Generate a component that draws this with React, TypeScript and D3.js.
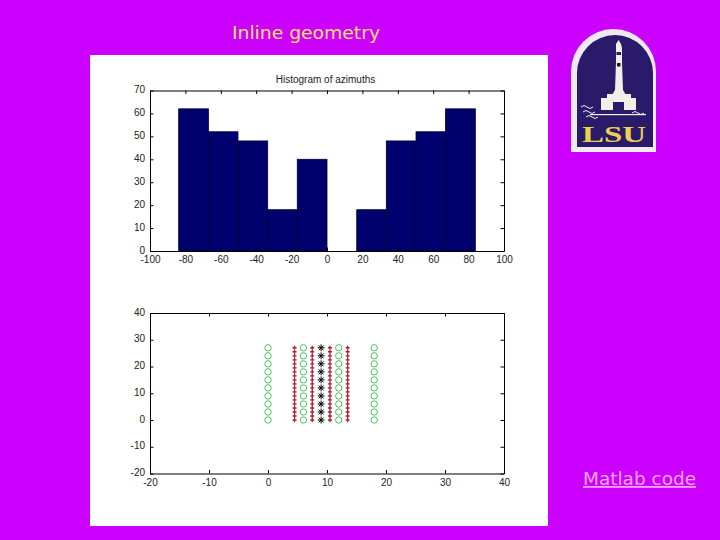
import React, { useEffect, useRef } from "react";
import * as d3 from "d3";

const binEdges = [-83.8, -67, -50.3, -33.5, -16.8, 0, 16.8, 33.5, 50.3, 67, 83.8];
const binCounts = [62, 52, 48, 18, 40, 0, 18, 48, 52, 62];
const histXTicks = [-100, -80, -60, -40, -20, 0, 20, 40, 60, 80, 100];
const histYTicks = [0, 10, 20, 30, 40, 50, 60, 70];
const geoXTicks = [-20, -10, 0, 10, 20, 30, 40];
const geoYTicks = [-20, -10, 0, 10, 20, 30, 40];
const greenColumns = [0, 6, 12, 18];
const redColumns = [4.5, 7.5, 10.5, 13.5];
const blackColumns = [9];
const greenRows = [0, 3, 6, 9, 12, 15, 18, 21, 24, 27];
const redRows = [0, 1.5, 3, 4.5, 6, 7.5, 9, 10.5, 12, 13.5, 15, 16.5, 18, 19.5, 21, 22.5, 24, 25.5, 27];
const blackRows = [0, 3, 6, 9, 12, 15, 18, 21, 24, 27];

const FONT = "'Liberation Sans', Arial, sans-serif";

function drawAxes(
  g: d3.Selection<SVGGElement, unknown, null, undefined>,
  x: d3.ScaleLinear<number, number>,
  y: d3.ScaleLinear<number, number>,
  xt: number[],
  yt: number[]
) {
  const [l, r] = x.range();
  const [b, t] = y.range();
  const tick = 3.5;
  const style = (a: d3.Selection<SVGGElement, unknown, null, undefined>) => {
    a.selectAll("path").attr("stroke", "#000").attr("stroke-width", 1);
    a.selectAll("line").attr("stroke", "#000").attr("stroke-width", 1);
    a.selectAll("text").attr("fill", "#222").attr("font-family", FONT).attr("font-size", 10);
  };
  const fmt = (d: d3.NumberValue) => String(d);
  g.append("g").attr("transform", `translate(0,${b})`)
    .call(d3.axisBottom(x).tickValues(xt).tickFormat(fmt).tickSizeInner(-tick).tickSizeOuter(0).tickPadding(5))
    .call(style);
  g.append("g").attr("transform", `translate(0,${t})`)
    .call(d3.axisTop(x).tickValues(xt).tickFormat(() => "").tickSizeInner(-tick).tickSizeOuter(0))
    .call(style);
  const left = g.append("g").attr("transform", `translate(${l},0)`)
    .call(d3.axisLeft(y).tickValues(yt).tickFormat(fmt).tickSizeInner(-tick).tickSizeOuter(0).tickPadding(5))
    .call(style);
  left.selectAll("text").attr("dy", "0.2em");
  g.append("g").attr("transform", `translate(${r},0)`)
    .call(d3.axisRight(y).tickValues(yt).tickFormat(() => "").tickSizeInner(-tick).tickSizeOuter(0))
    .call(style);
}

function Logo() {
  const arch = (l: number, r: number, t: number, b: number) => {
    const rad = (r - l) / 2;
    return `M${l},${b}L${l},${t + rad}A${rad},${rad} 0 0 1 ${r},${t + rad}L${r},${b}Z`;
  };
  const waves = [[581, 107], [583, 112], [586, 117], [632, 113]];
  const cream = "#f2eee8";
  const navy = "#2a1a6a";
  return (
    <g>
      <path d={arch(571, 656, 29, 152)} fill="#f0eaf0" />
      <path d={arch(577, 653, 35, 147)} fill={navy} />
      <path d="M616,44L618.5,40L621,44L622,48L622,62L623,90L626,95L612,95L615,90L616,62Z" fill={cream} />
      <rect x="616.5" y="52" width="4.5" height="3" fill={navy} />
      <rect x="617" y="63" width="3.5" height="3.5" fill="#1a1a1a" />
      <path d="M601,110L601,98L607,98L607,94L631,94L631,98L636,98L636,110Z" fill={cream} />
      <rect x="613" y="102" width="11" height="8" fill={navy} />
      <rect x="590" y="114" width="56" height="1.2" fill={cream} />
      {waves.map(([x, y], i) => (
        <path key={i} d={`M${x},${y}q3,-3 6,0t6,0`} fill="none" stroke={cream} strokeWidth={1} />
      ))}
      <text x="614" y="142" textAnchor="middle" fontFamily="'Liberation Serif', serif" fontWeight="bold"
        fontSize="24" fill="#ecd050" textLength="64" lengthAdjust="spacingAndGlyphs">LSU</text>
    </g>
  );
}

export default function App() {
  const ref = useRef<SVGGElement>(null);
  useEffect(() => {
    const root = d3.select(ref.current as SVGGElement);
    root.selectAll("*").remove();

    const hx = d3.scaleLinear().domain([-100, 100]).range([150, 504]);
    const hy = d3.scaleLinear().domain([0, 70]).range([251, 90.5]);
    const top = root.append("g");
    top.selectAll("rect").data(binCounts).join("rect")
      .attr("x", (_, i) => hx(binEdges[i]))
      .attr("width", (_, i) => hx(binEdges[i + 1]) - hx(binEdges[i]))
      .attr("y", d => hy(d))
      .attr("height", d => hy(0) - hy(d))
      .attr("fill", "#00006e")
      .attr("stroke", d => (d ? "#000030" : "none"))
      .attr("stroke-width", 0.8);
    drawAxes(top, hx, hy, histXTicks, histYTicks);
    top.append("text").attr("x", 325.5).attr("y", 82.5).attr("text-anchor", "middle")
      .attr("font-family", FONT).attr("font-size", 10).attr("fill", "#222")
      .text("Histogram of azimuths");

    const gx = d3.scaleLinear().domain([-20, 40]).range([150, 504]);
    const gy = d3.scaleLinear().domain([-20, 40]).range([473.5, 313]);
    const bot = root.append("g");
    drawAxes(bot, gx, gy, geoXTicks, geoYTicks);
    greenColumns.forEach(c => {
      greenRows.forEach(r => {
        bot.append("circle").attr("cx", gx(c)).attr("cy", gy(r)).attr("r", 3.2)
          .attr("fill", "none").attr("stroke", "#4cc25c").attr("stroke-width", 1);
      });
    });
    const plus = d3.symbol().type(d3.symbolCross).size(9);
    redColumns.forEach(c => {
      redRows.forEach(r => {
        bot.append("path").attr("d", plus()).attr("transform", `translate(${gx(c)},${gy(r)})`)
          .attr("fill", "#b02030");
      });
    });
    blackColumns.forEach(c => {
      blackRows.forEach(r => {
        const p = `translate(${gx(c)},${gy(r)})`;
        bot.append("path").attr("d", "M-3.5,0H3.5M0,-3.5V3.5M-2.5,-2.5L2.5,2.5M-2.5,2.5L2.5,-2.5")
          .attr("transform", p).attr("stroke", "#000").attr("stroke-width", 1).attr("fill", "none");
      });
    });
  }, []);

  return (
    <svg width={720} height={540} style={{ position: "fixed", left: 0, top: 0 }}>
      <rect x={0} y={0} width={720} height={540} fill="#cc00ff" />
      <rect x={90} y={55} width={458} height={471} fill="#ffffff" />
      <text x={232} y={39} fontFamily="'DejaVu Sans', sans-serif" fontSize={18} fill="#ffe060"
        textLength={148} lengthAdjust="spacingAndGlyphs">Inline geometry</text>
      <text x={583} y={485} fontFamily="'DejaVu Sans', sans-serif" fontSize={18} fill="#ffa8ff"
        textDecoration="underline" textLength={113} lengthAdjust="spacingAndGlyphs">Matlab code</text>
      <g ref={ref} />
      <Logo />
    </svg>
  );
}
